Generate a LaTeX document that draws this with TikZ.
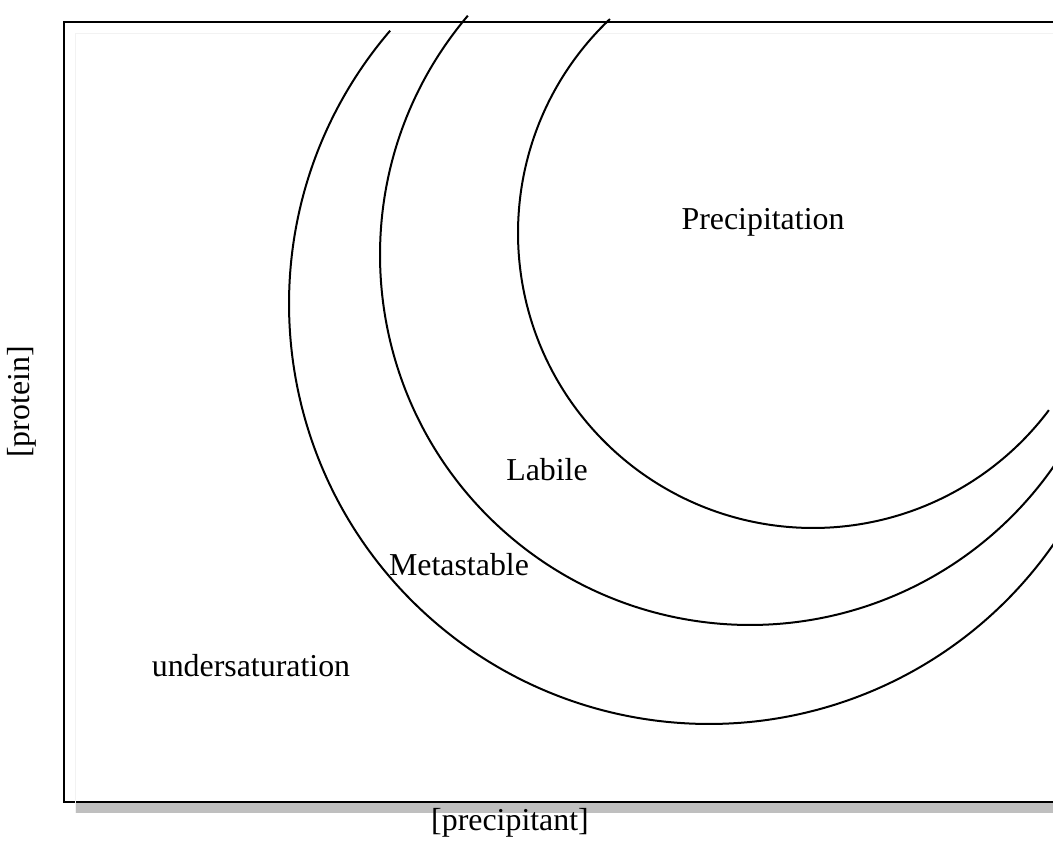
\documentclass[tikz,border=0pt]{standalone}
\usepackage{fontspec}
\setmainfont{Liberation Serif}
\begin{document}
\begin{tikzpicture}[x=1bp,y=1bp,
  lbl/.style={inner sep=0pt,anchor=base,font=\fontsize{32}{38}\selectfont},
  curve/.style={line width=2bp,black},
  frame/.style={line width=2.4bp,black,fill=white}]
\useasboundingbox (0,0) rectangle (1053,858);
\begin{scope}
\clip (0,0) rectangle (1053,858);
% shadow
\fill[black!25] (75,45) rectangle (1080,825);
\draw[frame] (64,56) rectangle (1075,836);
\draw[black!5,line width=0.8bp] (75,45) -- (75,825) -- (1080,825);
% curves
\draw[curve] (813,625) ++(133.5:295) arc[start angle=133.5,end angle=323.1,radius=295];
\draw[curve] (750,603) ++(139.7:370) arc[start angle=139.7,end angle=330,radius=370];
\draw[curve] (709,554) ++(139.4:420) arc[start angle=139.4,end angle=330,radius=420];
\end{scope}
% labels
\node[lbl] (prec) at (763,628) {Precipitation};
\node[lbl] (lab) at (547,377) {Labile};
\node[lbl] (meta) at (459,282) {Metastable};
\node[lbl] (under) at (251,181) {undersaturation};
\node[lbl] (xlab) at (510,27) {[precipitant]};
\node[inner sep=0pt,font=\fontsize{32}{38}\selectfont,rotate=90] (ylab) at (22,456) {[protein]};
\end{tikzpicture}
\end{document}
